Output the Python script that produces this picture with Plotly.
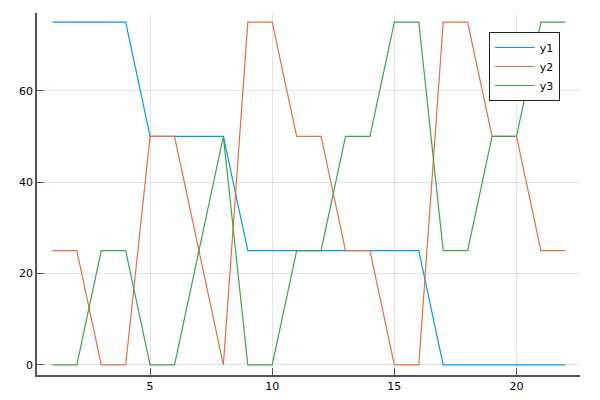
import plotly.graph_objects as go

x = list(range(1, 23))
y1 = [75, 75, 75, 75, 50, 50, 50, 50, 25, 25, 25, 25, 25, 25, 25, 25, 0, 0, 0, 0, 0, 0]
y2 = [25, 25, 0, 0, 50, 50, 25, 0, 75, 75, 50, 50, 25, 25, 0, 0, 75, 75, 50, 50, 25, 25]
y3 = [0, 0, 25, 25, 0, 0, 25, 50, 0, 0, 25, 25, 50, 50, 75, 75, 25, 25, 50, 50, 75, 75]
names = ["y1", "y2", "y3"]
colors = ["#009AFA", "#E36F47", "#3EA44E"]

fig = go.Figure()
for name, ys, c in zip(names, [y1, y2, y3], colors):
    fig.add_trace(go.Scatter(x=x, y=ys, mode="lines", name=name,
                             line=dict(color=c, width=1.2)))

axis_common = dict(
    showgrid=True, gridcolor="rgba(0,0,0,0.1)", gridwidth=1,
    zeroline=False, showline=True, linecolor="#555555", linewidth=1.5,
    ticks="inside", ticklen=7, tickcolor="#555555", tickwidth=1,
    tickfont=dict(family="DejaVu Sans", size=11, color="black"),
    mirror=False, automargin=False,
)
fig.update_xaxes(range=[0.37, 22.6], tickvals=[5, 10, 15, 20], **axis_common)
fig.update_yaxes(range=[-2.2, 77.0], tickvals=[0, 20, 40, 60], **axis_common)

fig.update_layout(
    width=600, height=400,
    margin=dict(l=29, r=28, t=5, b=33),
    plot_bgcolor="white", paper_bgcolor="white",
    legend=dict(x=0.832, y=0.9475, xanchor="left", yanchor="top",
                bordercolor="#222222", borderwidth=1, bgcolor="white",
                font=dict(family="DejaVu Sans", size=11, color="black"),
                tracegroupgap=0, itemwidth=40),
    showlegend=True,
)
fig.write_html("out.html")
